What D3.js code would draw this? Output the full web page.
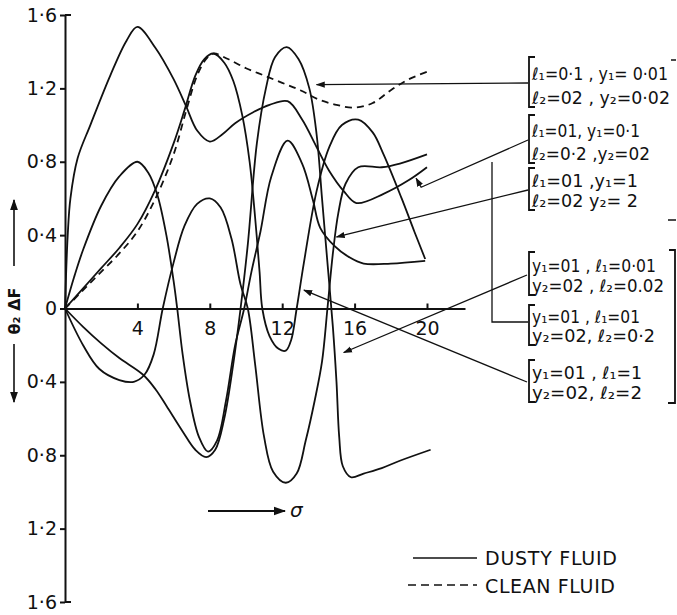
<!DOCTYPE html>
<html>
<head>
<meta charset="utf-8">
<script src="https://cdn.jsdelivr.net/npm/d3@7"></script>
<style>
  body { margin: 0; background: #fff; }
  svg text { font-family: "DejaVu Sans", sans-serif; fill: #111; }
</style>
</head>
<body>
<div id="chart"></div>
<script>
// sigma (x) vs theta2*dF (y); curves are point lists, some loop back in sigma
const xTicks = [4, 8, 12, 16, 20];
const yTicks = [1.6, 1.2, 0.8, 0.4, 0, -0.4, -0.8, -1.2, -1.6];

const cleanFluid = [[0,0],[1,0.1],[2,0.2],[3,0.3],[4,0.42],[5,0.6],[6,0.84],[6.7,1.08],[7.3,1.27],[7.8,1.36],[8.2,1.39],
  [9,1.36],[10,1.31],[11,1.27],[12,1.23],[13,1.19],[14,1.14],[15,1.11],[16,1.095],[17,1.12],[18,1.19],[19,1.25],[20,1.29]];

// l=0.1/0.2, y=0.01/0.02
const dustyA = [[0,0],[1,0.11],[2,0.22],[3,0.33],[4,0.46],[5,0.65],[6,0.9],[6.6,1.08],[7.2,1.27],[7.7,1.36],[8.2,1.39],
  [8.8,1.34],[9.3,1.24],[9.8,1.05],[10.2,0.8],[10.5,0.5],[10.75,0.2],[10.9,0],[11.3,-0.15],[11.8,-0.22],[12.2,-0.23],
  [12.5,-0.17],[12.8,0],[13.2,0.25],[13.9,0.64],[14.6,0.88],[15.3,1.0],[16.2,1.03],[17,0.96],[17.6,0.84],[18.6,0.6],
  [19.3,0.42],[19.9,0.27]];
// l=0.1/0.2, y=0.1/0.2
const dustyB = [[0,0],[0.15,0.4],[0.3,0.6],[0.7,0.82],[1.4,1.0],[2.5,1.27],[3.4,1.46],[4,1.535],[5,1.42],[6,1.25],
  [6.7,1.1],[7.3,0.97],[8,0.91],[8.7,0.95],[9.4,1.01],[10.4,1.07],[11.3,1.11],[12.3,1.13],[13.1,1.03],[13.9,0.88],
  [14.6,0.75],[15.4,0.64],[16.1,0.575],[17.6,0.625],[19,0.7],[20,0.77]];
// l=0.1/0.2, y=1/2
const dustyC = [[0,0],[1,-0.2],[1.9,-0.33],[3,-0.39],[3.8,-0.4],[4.4,-0.36],[4.9,-0.25],[5.4,0],[6,0.25],[6.6,0.45],
  [7.3,0.57],[8,0.6],[8.6,0.55],[9.2,0.38],[9.7,0.13],[10.1,0],[10.5,-0.3],[11,-0.7],[11.5,-0.89],[12.2,-0.95],
  [12.8,-0.9],[13.3,-0.72],[13.8,-0.5],[14.2,-0.29],[14.5,0],[14.8,0.3],[15.1,0.52],[15.5,0.68],[16.2,0.77],
  [17.5,0.77],[18.5,0.79],[20,0.84]];
// y=0.1/0.2, l=0.01/0.02
const dustyD = [[0,0],[1,-0.1],[2,-0.19],[3,-0.27],[4.3,-0.36],[5,-0.44],[5.6,-0.53],[6.5,-0.67],[7.2,-0.77],[7.8,-0.81],
  [8.3,-0.77],[8.8,-0.6],[9.3,-0.3],[9.7,0],[10.1,0.35],[10.6,0.9],[11.1,1.2],[11.6,1.37],[12.25,1.425],[12.9,1.36],
  [13.5,1.2],[13.9,0.95],[14.2,0.6],[14.5,0.25],[14.8,-0.1],[15.0,-0.4],[15.15,-0.7],[15.35,-0.86],[15.8,-0.92],
  [16.5,-0.9],[17.5,-0.87],[18.5,-0.83],[20.2,-0.77]];
// y=0.1/0.2, l=1/2
const dustyE = [[0,0],[0.5,0.17],[1,0.32],[2,0.56],[3,0.72],[4,0.8],[4.6,0.74],[5.1,0.62],[5.6,0.4],[6,0.15],[6.2,0],
  [6.5,-0.25],[6.9,-0.5],[7.4,-0.7],[7.9,-0.78],[8.4,-0.72],[8.9,-0.5],[9.4,-0.2],[9.9,0],[10.3,0.2],[10.8,0.42],
  [11.4,0.72],[12.3,0.915],[13.1,0.79],[13.7,0.59],[14.1,0.44],[14.9,0.34],[15.7,0.28],[16.5,0.245],[18,0.245],[19.9,0.26]];

const dustyCurves = [dustyA, dustyB, dustyC, dustyD, dustyE];

// legend boxes: two text rows each, pointer target in data units
const labelRows = [
  ["ℓ₁=0·1 , y₁= 0·01", "ℓ₂=02 , y₂=0·02"],
  ["ℓ₁=01,  y₁=0·1", "ℓ₂=0·2 ,y₂=02"],
  ["ℓ₁=01 ,y₁=1", "ℓ₂=02 y₂= 2"],
  ["y₁=01 , ℓ₁=0·01", "y₂=02 , ℓ₂=0.02"],
  ["y₁=01 , ℓ₁=01", "y₂=02, ℓ₂=0·2"],
  ["y₁=01 , ℓ₁=1", "y₂=02, ℓ₂=2"]
];
const labelTargets = [[13.9, 1.22], [19.4, 0.71], [15.0, 0.39], [15.4, -0.24], null, [13.2, 0.1]];

const W = 677, H = 615;
const svg = d3.select("#chart").append("svg").attr("width", W).attr("height", H);

const x = d3.scaleLinear().domain([0, 22.1]).range([65, 465]);
const y = d3.scaleLinear().domain([-1.6, 1.6]).range([602, 15]);

svg.append("defs").append("marker")
  .attr("id", "arr").attr("viewBox", "0 0 10 10").attr("refX", 9).attr("refY", 5)
  .attr("markerWidth", 7).attr("markerHeight", 7).attr("orient", "auto-start-reverse")
  .append("path").attr("d", "M0,1.5L10,5L0,8.5z").attr("fill", "#111");

// axes
const fmt = d => d === 0 ? "0" : String(Math.abs(d).toFixed(1)).replace(".", "·");
const yAxis = svg.append("g").attr("transform", "translate(65,0)")
  .call(d3.axisLeft(y).tickValues(yTicks).tickSize(5).tickSizeOuter(0).tickPadding(3).tickFormat(fmt));
yAxis.selectAll("text").style("font-size", "19px");
yAxis.selectAll("line, path").attr("stroke", "#111").attr("stroke-width", 2);
svg.append("path").attr("d", `M${x(0)},${y(1.6)}h6M${x(0)},${y(-1.6)}h6`).attr("stroke", "#111").attr("stroke-width", 2);

const xAxis = svg.append("g").attr("transform", `translate(0,${y(0)})`)
  .call(d3.axisBottom(x).tickValues(xTicks).tickSize(-5).tickSizeOuter(0).tickPadding(13));
xAxis.selectAll("text").style("font-size", "19px");
xAxis.selectAll("line, path").attr("stroke", "#111").attr("stroke-width", 2);

// y title with arrows
svg.append("text").attr("transform", "translate(20,311) rotate(-90)").attr("text-anchor", "middle")
  .style("font-size", "16px").style("font-weight", "bold").text("θ₂ ΔF");
svg.append("line").attr("x1", 14).attr("y1", 266).attr("x2", 14).attr("y2", 200)
  .attr("stroke", "#111").attr("stroke-width", 1.6).attr("marker-end", "url(#arr)");
svg.append("line").attr("x1", 14).attr("y1", 344).attr("x2", 14).attr("y2", 402)
  .attr("stroke", "#111").attr("stroke-width", 1.6).attr("marker-end", "url(#arr)");

// x title arrow
svg.append("line").attr("x1", 208).attr("y1", 511).attr("x2", 285).attr("y2", 511)
  .attr("stroke", "#111").attr("stroke-width", 1.8).attr("marker-end", "url(#arr)");
svg.append("text").attr("x", 290).attr("y", 517).style("font-size", "20px").style("font-style", "italic").text("σ");

// curves
const line = d3.line().x(d => x(d[0])).y(d => y(d[1])).curve(d3.curveCatmullRom.alpha(0.5));
svg.append("g").selectAll("path").data(dustyCurves).join("path")
  .attr("d", line).attr("fill", "none").attr("stroke", "#111").attr("stroke-width", 1.8);
svg.append("path").datum(cleanFluid).attr("d", line).attr("fill", "none")
  .attr("stroke", "#111").attr("stroke-width", 1.8).attr("stroke-dasharray", "7,5");

// parameter boxes
const boxTop = [57, 115, 168, 252, 305, 360];
const boxH = [50, 48, 42, 43, 40, 42];
const rowWidth = [[136, 138], [108, 118], [106, 106], [124, 132], [108, 123], [110, 110]];
labelRows.forEach((rows, i) => {
  const t = boxTop[i], h = boxH[i];
  svg.append("path").attr("d", `M535,${t}H529V${t + h}H535`).attr("fill", "none").attr("stroke", "#111").attr("stroke-width", 1.8);
  const base = [t + h / 2 - 2, t + h - 3];
  rows.forEach((r, j) => {
    svg.append("text").attr("x", 532).attr("y", base[j])
      .attr("textLength", rowWidth[i][j]).attr("lengthAdjust", "spacingAndGlyphs")
      .style("font-size", "17px").text(r);
  });
});

// right brackets
svg.append("path").attr("d", "M669,250H675V403H668").attr("fill", "none").attr("stroke", "#111").attr("stroke-width", 1.8);
svg.append("path").attr("d", "M671,60H676M668,220H676").attr("fill", "none").attr("stroke", "#111").attr("stroke-width", 1.6);

// pointers
const ptrStart = [[528, 83], [528, 140], [528, 190], [527, 275], null, [527, 382]];
labelTargets.forEach((tg, i) => {
  if (!tg) return;
  const s = ptrStart[i];
  let d;
  if (i === 1) d = `M${s[0]},${s[1]}L${x(tg[0]) + 5},${y(tg[1]) + 9}L${x(tg[0])},${y(tg[1])}`;
  else d = `M${s[0]},${s[1]}L${x(tg[0])},${y(tg[1])}`;
  svg.append("path").attr("d", d).attr("fill", "none").attr("stroke", "#111").attr("stroke-width", 1.3)
    .attr("marker-end", "url(#arr)");
});
// link between the two boxes with the same parameters
svg.append("path").attr("d", "M492,162V322H528").attr("fill", "none").attr("stroke", "#111").attr("stroke-width", 1.3);

// legend
svg.append("line").attr("x1", 413).attr("x2", 477).attr("y1", 558).attr("y2", 558).attr("stroke", "#111").attr("stroke-width", 1.6);
svg.append("line").attr("x1", 408).attr("x2", 477).attr("y1", 585).attr("y2", 585).attr("stroke", "#111").attr("stroke-width", 1.6)
  .attr("stroke-dasharray", "8,5");
svg.append("text").attr("x", 485).attr("y", 565).attr("textLength", 132).attr("lengthAdjust", "spacing")
  .style("font-size", "19px").text("DUSTY FLUID");
svg.append("text").attr("x", 485).attr("y", 593).attr("textLength", 130).attr("lengthAdjust", "spacing")
  .style("font-size", "19px").text("CLEAN FLUID");
</script>
</body>
</html>
